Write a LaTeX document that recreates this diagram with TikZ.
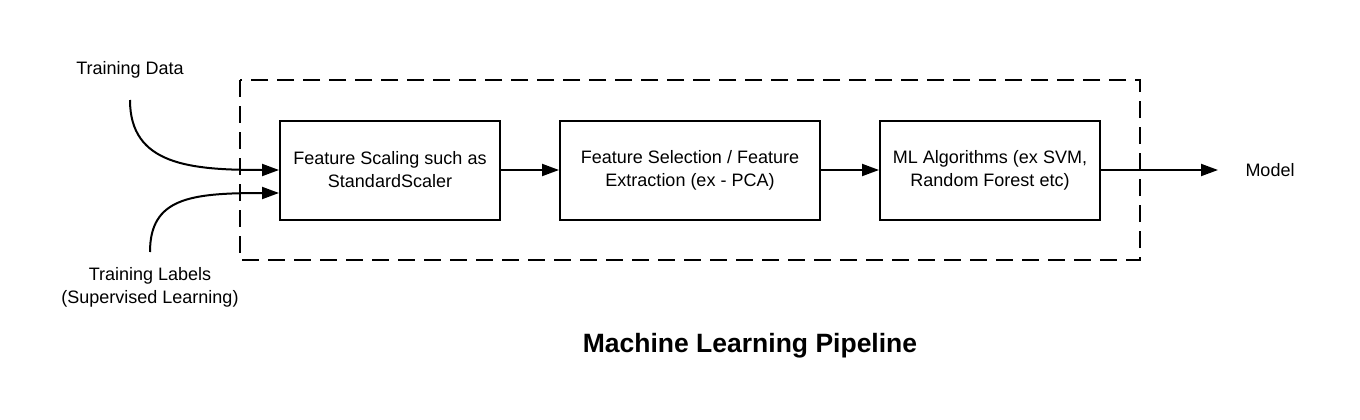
\documentclass[tikz,border=0pt]{standalone}
\usepackage{fontspec}
\setmainfont{Liberation Sans}
\usetikzlibrary{arrows.meta}
\begin{document}
\begin{tikzpicture}[x=1pt,y=-1pt,
  stage/.style={draw,line width=2pt,minimum width=220pt,minimum height=99pt,align=center,font=\fontsize{18}{23}\selectfont,inner sep=0pt},
  lbl/.style={align=center,font=\fontsize{18}{23}\selectfont},
  arr/.style={line width=2pt,-{Triangle[length=17pt,width=12pt]}}]
\useasboundingbox (0,0) rectangle (1360,420);
\draw[line width=2pt,dash pattern=on 17pt off 9pt] (240,80) rectangle (1140,260);
\node[stage] (s1) at (390,170) {Feature Scaling such as\\StandardScaler};
\node[stage,minimum width=260pt] (s2) at (690,170) {Feature Selection / Feature\\Extraction (ex - PCA)};
\node[stage] (s3) at (990,170) {ML Algorithms (ex SVM,\\Random Forest etc)};
\node[lbl] (td) at (130,70) {Training Data};
\node[lbl] (tl) at (150,287) {Training Labels\\(Supervised Learning)};
\node[lbl] (model) at (1270,170) {Model};
\node[font=\bfseries\fontsize{26.5}{30}\selectfont] (title) at (750,346) {Machine Learning Pipeline};
\coordinate (tdstart) at (130,100);
\coordinate (tlstart) at (150,252);
\coordinate (mend) at (1218,170);
\draw[arr] (tdstart) .. controls (130,165) and (190,170) .. (s1.west |- 0,170);
\draw[arr] (tlstart) .. controls (150,198) and (190,193) .. (s1.west |- 0,193);
\draw[arr] (s1.east) -- (s2.west);
\draw[arr] (s2.east) -- (s3.west);
\draw[arr] (s3.east) -- (mend);
\end{tikzpicture}
\end{document}
